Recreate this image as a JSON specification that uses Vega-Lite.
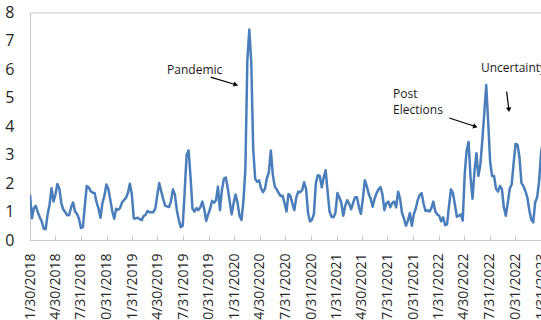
{
  "$schema": "https://vega.github.io/schema/vega-lite/v6.json",
  "width": 513,
  "height": 227.5,
  "autosize": {"type": "none"},
  "padding": {"left": 30, "top": 12.5, "right": 0, "bottom": 80},
  "config": {
    "view": {"stroke": "#C8C8C8", "strokeWidth": 1},
    "font": "Open Sans",
    "axis": {"grid": false, "domainColor": "#C8C8C8", "tickColor": "#C8C8C8", "labelColor": "#262626", "labelFont": "Open Sans", "labelOverlap": false, "labelFlush": false, "labelBound": false},
    "axisX": {"labelAngle": -90, "labelFontSize": 14, "tickSize": -5, "labelPadding": 18, "labelOverlap": false, "format": "%-m/%-d/%Y", "tickCount": 100},
    "axisY": {"ticks": false, "labelFontSize": 16, "labelPadding": 16, "labelOverlap": false, "tickCount": 100, "format": "d"}
  },
  "datasets": {
    "series": [
      {"d":"2018-01-30","v":1.6},{"d":"2018-02-06","v":0.76},{"d":"2018-02-13","v":1.12},{"d":"2018-02-20","v":1.2},{"d":"2018-02-27","v":0.97},
      {"d":"2018-03-06","v":0.8},{"d":"2018-03-13","v":0.65},{"d":"2018-03-20","v":0.4},{"d":"2018-03-27","v":0.38},{"d":"2018-04-03","v":0.9},
      {"d":"2018-04-10","v":1.25},{"d":"2018-04-17","v":1.82},{"d":"2018-04-24","v":1.35},{"d":"2018-05-01","v":1.6},{"d":"2018-05-08","v":1.97},
      {"d":"2018-05-15","v":1.8},{"d":"2018-05-22","v":1.3},{"d":"2018-05-29","v":1.07},{"d":"2018-06-05","v":0.98},{"d":"2018-06-12","v":0.87},
      {"d":"2018-06-19","v":0.88},{"d":"2018-06-26","v":1.15},{"d":"2018-07-03","v":1.32},{"d":"2018-07-10","v":1.0},{"d":"2018-07-17","v":0.92},
      {"d":"2018-07-24","v":0.75},{"d":"2018-07-31","v":0.42},{"d":"2018-08-07","v":0.45},{"d":"2018-08-14","v":1.2},{"d":"2018-08-21","v":1.9},
      {"d":"2018-08-28","v":1.85},{"d":"2018-09-04","v":1.72},{"d":"2018-09-11","v":1.66},{"d":"2018-09-18","v":1.65},{"d":"2018-09-25","v":1.33},
      {"d":"2018-10-02","v":1.1},{"d":"2018-10-09","v":0.78},{"d":"2018-10-16","v":1.3},{"d":"2018-10-23","v":1.55},{"d":"2018-10-30","v":1.95},
      {"d":"2018-11-06","v":1.8},{"d":"2018-11-13","v":1.42},{"d":"2018-11-20","v":1.02},{"d":"2018-11-27","v":0.75},{"d":"2018-12-04","v":1.1},
      {"d":"2018-12-11","v":1.06},{"d":"2018-12-18","v":1.12},{"d":"2018-12-25","v":1.32},
      {"d":"2019-01-01","v":1.4},{"d":"2019-01-08","v":1.48},{"d":"2019-01-15","v":1.65},{"d":"2019-01-22","v":1.98},{"d":"2019-01-29","v":1.62},
      {"d":"2019-02-05","v":0.76},{"d":"2019-02-12","v":0.76},{"d":"2019-02-19","v":0.78},{"d":"2019-02-26","v":0.74},{"d":"2019-03-05","v":0.7},
      {"d":"2019-03-12","v":0.84},{"d":"2019-03-19","v":0.88},{"d":"2019-03-26","v":1.02},{"d":"2019-04-02","v":0.98},{"d":"2019-04-09","v":0.98},
      {"d":"2019-04-16","v":0.98},{"d":"2019-04-23","v":1.1},{"d":"2019-04-30","v":1.58},{"d":"2019-05-07","v":2.0},{"d":"2019-05-14","v":1.72},
      {"d":"2019-05-21","v":1.45},{"d":"2019-05-28","v":1.21},{"d":"2019-06-04","v":1.18},{"d":"2019-06-11","v":1.16},{"d":"2019-06-18","v":1.36},
      {"d":"2019-06-25","v":1.78},{"d":"2019-07-02","v":1.6},{"d":"2019-07-09","v":1.05},{"d":"2019-07-16","v":0.7},{"d":"2019-07-23","v":0.45},
      {"d":"2019-07-30","v":0.5},{"d":"2019-08-06","v":1.7},{"d":"2019-08-13","v":3.0},{"d":"2019-08-20","v":3.15},{"d":"2019-08-27","v":2.2},
      {"d":"2019-09-03","v":1.1},{"d":"2019-09-10","v":1.0},{"d":"2019-09-17","v":1.12},{"d":"2019-09-24","v":1.05},{"d":"2019-10-01","v":1.15},
      {"d":"2019-10-08","v":1.35},{"d":"2019-10-15","v":1.08},{"d":"2019-10-22","v":0.67},{"d":"2019-10-29","v":0.9},{"d":"2019-11-05","v":1.1},
      {"d":"2019-11-12","v":1.38},{"d":"2019-11-19","v":1.31},{"d":"2019-11-26","v":1.39},{"d":"2019-12-03","v":1.88},{"d":"2019-12-10","v":1.05},
      {"d":"2019-12-17","v":1.75},{"d":"2019-12-24","v":2.15},{"d":"2019-12-31","v":2.2},
      {"d":"2020-01-07","v":1.82},{"d":"2020-01-14","v":1.35},{"d":"2020-01-21","v":0.9},{"d":"2020-01-28","v":1.3},{"d":"2020-02-04","v":1.6},
      {"d":"2020-02-11","v":1.3},{"d":"2020-02-18","v":0.85},{"d":"2020-02-25","v":0.7},{"d":"2020-03-03","v":1.37},{"d":"2020-03-10","v":2.5},
      {"d":"2020-03-17","v":6.3},{"d":"2020-03-24","v":7.4},{"d":"2020-03-31","v":6.25},{"d":"2020-04-07","v":3.2},{"d":"2020-04-14","v":2.15},
      {"d":"2020-04-21","v":2.05},{"d":"2020-04-28","v":2.1},{"d":"2020-05-05","v":1.82},{"d":"2020-05-12","v":1.68},{"d":"2020-05-19","v":1.8},
      {"d":"2020-05-26","v":2.18},{"d":"2020-06-02","v":2.38},{"d":"2020-06-09","v":3.15},{"d":"2020-06-16","v":2.3},{"d":"2020-06-23","v":1.88},
      {"d":"2020-06-30","v":1.78},{"d":"2020-07-07","v":1.65},{"d":"2020-07-14","v":1.55},{"d":"2020-07-21","v":1.56},{"d":"2020-07-28","v":1.3},
      {"d":"2020-08-04","v":1.0},{"d":"2020-08-11","v":1.62},{"d":"2020-08-18","v":1.55},{"d":"2020-08-25","v":1.28},{"d":"2020-09-01","v":1.05},
      {"d":"2020-09-08","v":1.5},{"d":"2020-09-15","v":1.7},{"d":"2020-09-22","v":1.68},{"d":"2020-09-29","v":1.75},{"d":"2020-10-06","v":2.03},
      {"d":"2020-10-13","v":1.8},{"d":"2020-10-20","v":0.95},{"d":"2020-10-27","v":0.65},{"d":"2020-11-03","v":0.71},{"d":"2020-11-10","v":0.92},
      {"d":"2020-11-17","v":2.0},{"d":"2020-11-24","v":2.28},{"d":"2020-12-01","v":2.25},{"d":"2020-12-08","v":1.85},{"d":"2020-12-15","v":2.2},
      {"d":"2020-12-22","v":2.45},{"d":"2020-12-29","v":1.7},
      {"d":"2021-01-05","v":1.0},{"d":"2021-01-12","v":0.82},{"d":"2021-01-19","v":0.8},{"d":"2021-01-26","v":0.95},{"d":"2021-02-02","v":1.65},
      {"d":"2021-02-09","v":1.5},{"d":"2021-02-16","v":1.3},{"d":"2021-02-23","v":0.85},{"d":"2021-03-02","v":1.2},{"d":"2021-03-09","v":1.4},
      {"d":"2021-03-16","v":1.28},{"d":"2021-03-23","v":1.08},{"d":"2021-03-30","v":1.3},{"d":"2021-04-06","v":1.5},{"d":"2021-04-13","v":1.5},
      {"d":"2021-04-20","v":1.15},{"d":"2021-04-27","v":0.92},{"d":"2021-05-04","v":1.45},{"d":"2021-05-11","v":2.1},{"d":"2021-05-18","v":1.9},
      {"d":"2021-05-25","v":1.62},{"d":"2021-06-01","v":1.45},{"d":"2021-06-08","v":1.17},{"d":"2021-06-15","v":1.45},{"d":"2021-06-22","v":1.65},
      {"d":"2021-06-29","v":1.78},{"d":"2021-07-06","v":1.86},{"d":"2021-07-13","v":1.6},{"d":"2021-07-20","v":1.05},{"d":"2021-07-27","v":1.29},
      {"d":"2021-08-03","v":1.35},{"d":"2021-08-10","v":1.15},{"d":"2021-08-17","v":1.3},{"d":"2021-08-24","v":1.35},{"d":"2021-08-31","v":1.15},
      {"d":"2021-09-07","v":1.7},{"d":"2021-09-14","v":1.45},{"d":"2021-09-21","v":0.95},{"d":"2021-09-28","v":0.75},{"d":"2021-10-05","v":0.5},
      {"d":"2021-10-12","v":0.68},{"d":"2021-10-19","v":0.95},{"d":"2021-10-26","v":0.5},{"d":"2021-11-02","v":0.9},{"d":"2021-11-09","v":1.1},
      {"d":"2021-11-16","v":1.4},{"d":"2021-11-23","v":1.58},{"d":"2021-11-30","v":1.65},{"d":"2021-12-07","v":1.28},{"d":"2021-12-14","v":1.02},
      {"d":"2021-12-21","v":1.05},{"d":"2021-12-28","v":1.0},
      {"d":"2022-01-04","v":1.12},{"d":"2022-01-11","v":1.35},{"d":"2022-01-18","v":1.0},{"d":"2022-01-25","v":0.9},{"d":"2022-02-01","v":0.85},
      {"d":"2022-02-08","v":0.66},{"d":"2022-02-15","v":0.8},{"d":"2022-02-22","v":0.52},{"d":"2022-03-01","v":0.55},{"d":"2022-03-08","v":1.2},
      {"d":"2022-03-15","v":1.78},{"d":"2022-03-22","v":1.65},{"d":"2022-03-29","v":1.25},{"d":"2022-04-05","v":0.82},{"d":"2022-04-12","v":0.85},
      {"d":"2022-04-19","v":0.9},{"d":"2022-04-26","v":0.68},{"d":"2022-05-03","v":2.3},{"d":"2022-05-10","v":3.15},{"d":"2022-05-17","v":3.45},
      {"d":"2022-05-24","v":2.2},{"d":"2022-05-31","v":1.45},{"d":"2022-06-07","v":2.4},{"d":"2022-06-14","v":3.05},{"d":"2022-06-21","v":2.25},
      {"d":"2022-06-28","v":2.65},{"d":"2022-07-05","v":3.5},{"d":"2022-07-12","v":4.45},{"d":"2022-07-19","v":5.45},{"d":"2022-07-26","v":4.15},
      {"d":"2022-08-02","v":2.75},{"d":"2022-08-09","v":2.25},{"d":"2022-08-16","v":2.25},{"d":"2022-08-23","v":1.8},{"d":"2022-08-30","v":1.7},
      {"d":"2022-09-06","v":1.9},{"d":"2022-09-13","v":1.8},{"d":"2022-09-20","v":1.15},{"d":"2022-09-27","v":0.85},{"d":"2022-10-04","v":1.3},
      {"d":"2022-10-11","v":1.8},{"d":"2022-10-18","v":1.95},{"d":"2022-10-25","v":2.7},{"d":"2022-11-01","v":3.38},{"d":"2022-11-08","v":3.35},
      {"d":"2022-11-15","v":2.9},{"d":"2022-11-22","v":2.0},{"d":"2022-11-29","v":1.9},{"d":"2022-12-06","v":1.72},{"d":"2022-12-13","v":1.5},
      {"d":"2022-12-20","v":1.05},{"d":"2022-12-27","v":0.72},
      {"d":"2023-01-03","v":0.62},{"d":"2023-01-10","v":1.32},{"d":"2023-01-17","v":1.5},{"d":"2023-01-24","v":2.05},{"d":"2023-01-31","v":3.05},
      {"d":"2023-02-07","v":3.5}
    ],
    "notes": [
      {"d":"2019-06-04","v":5.99,"t":"Pandemic"},
      {"d":"2021-08-20","v":5.14,"t":"Post"},
      {"d":"2021-08-20","v":4.58,"t":"Elections"},
      {"d":"2022-06-30","v":6.06,"t":"Uncertainty"}
    ],
    "arrows": [
      {"n":"Pandemic","x1":"2019-11-07","y1":5.73,"x2":"2020-02-05","y2":5.46},
      {"n":"Post","x1":"2022-03-09","y1":4.29,"x2":"2022-06-10","y2":3.99},
      {"n":"Uncertainty","x1":"2022-09-30","y1":5.22,"x2":"2022-10-08","y2":4.58}
    ]
  },
  "layer": [
    {
      "data": {"name": "series"},
      "mark": {"type": "line", "color": "#4A7EBB", "strokeWidth": 2.5, "strokeJoin": "round", "clip": true},
      "encoding": {
        "x": {
          "field": "d", "type": "temporal", "title": null,
          "scale": {"type": "utc", "domain": [{"year": 2018, "month": 1, "date": 30, "utc": true}, {"year": 2023, "month": 2, "date": 7, "utc": true}], "nice": false},
          "axis": {
            "values": [
              {"year": 2018, "month": 1, "date": 30, "utc": true},
              {"year": 2018, "month": 4, "date": 30, "utc": true},
              {"year": 2018, "month": 7, "date": 31, "utc": true},
              {"year": 2018, "month": 10, "date": 31, "utc": true},
              {"year": 2019, "month": 1, "date": 31, "utc": true},
              {"year": 2019, "month": 4, "date": 30, "utc": true},
              {"year": 2019, "month": 7, "date": 31, "utc": true},
              {"year": 2019, "month": 10, "date": 31, "utc": true},
              {"year": 2020, "month": 1, "date": 31, "utc": true},
              {"year": 2020, "month": 4, "date": 30, "utc": true},
              {"year": 2020, "month": 7, "date": 31, "utc": true},
              {"year": 2020, "month": 10, "date": 31, "utc": true},
              {"year": 2021, "month": 1, "date": 31, "utc": true},
              {"year": 2021, "month": 4, "date": 30, "utc": true},
              {"year": 2021, "month": 7, "date": 31, "utc": true},
              {"year": 2021, "month": 10, "date": 31, "utc": true},
              {"year": 2022, "month": 1, "date": 31, "utc": true},
              {"year": 2022, "month": 4, "date": 30, "utc": true},
              {"year": 2022, "month": 7, "date": 31, "utc": true},
              {"year": 2022, "month": 10, "date": 31, "utc": true},
              {"year": 2023, "month": 1, "date": 31, "utc": true}
            ],
            "format": "%-m/%-d/%Y",
            "labelOverlap": false,
            "tickCount": 100
          }
        },
        "y": {
          "field": "v", "type": "quantitative", "title": null,
          "scale": {"domain": [0, 8], "nice": false},
          "axis": {"values": [0, 1, 2, 3, 4, 5, 6, 7, 8], "labelOverlap": false, "tickCount": 100, "format": "d"}
        }
      }
    },
    {
      "data": {"name": "arrows"},
      "mark": {"type": "rule", "color": "black", "strokeWidth": 1.2},
      "encoding": {
        "x": {"field": "x1", "type": "temporal", "title": null},
        "x2": {"field": "x2"},
        "y": {"field": "y1", "type": "quantitative", "title": null},
        "y2": {"field": "y2"}
      }
    },
    {
      "data": {"name": "arrows"},
      "transform": [{"filter": "datum.n !== 'Uncertainty'"}],
      "mark": {"type": "point", "shape": "triangle-right", "filled": true, "color": "black", "opacity": 1, "size": 28, "angle": 17},
      "encoding": {
        "x": {"field": "x2", "type": "temporal", "title": null},
        "y": {"field": "y2", "type": "quantitative", "title": null}
      }
    },
    {
      "data": {"name": "arrows"},
      "transform": [{"filter": "datum.n === 'Uncertainty'"}],
      "mark": {"type": "point", "shape": "triangle-right", "filled": true, "color": "black", "opacity": 1, "size": 28, "angle": 83},
      "encoding": {
        "x": {"field": "x2", "type": "temporal", "title": null},
        "y": {"field": "y2", "type": "quantitative", "title": null}
      }
    },
    {
      "data": {"name": "notes"},
      "mark": {"type": "text", "align": "left", "baseline": "middle", "fontSize": 12, "font": "Open Sans", "color": "#1a1a1a"},
      "encoding": {
        "x": {"field": "d", "type": "temporal", "title": null},
        "y": {"field": "v", "type": "quantitative", "title": null},
        "text": {"field": "t"}
      }
    }
  ]
}
